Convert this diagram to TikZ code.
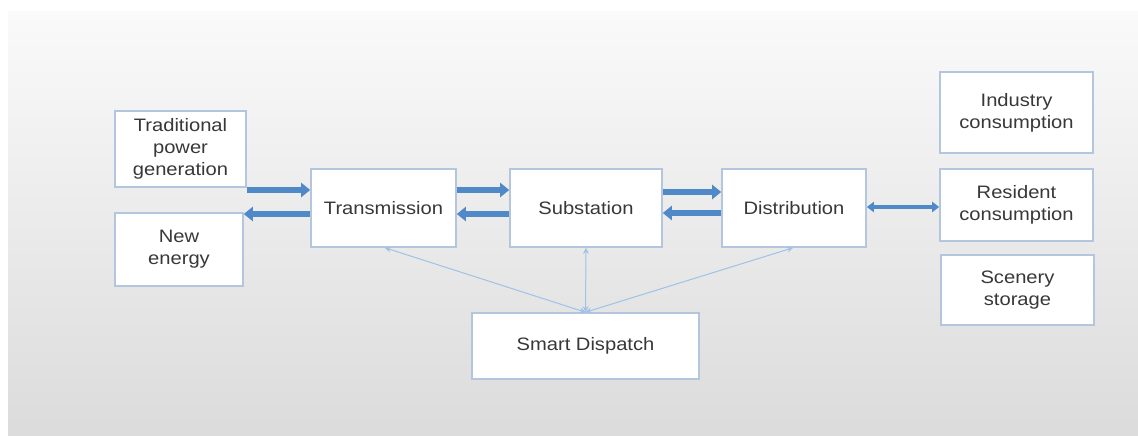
\documentclass[tikz,border=0pt]{standalone}
\usepackage{fontspec}
\setmainfont[FakeStretch=1.12]{Liberation Sans}
\usetikzlibrary{arrows.meta}
\definecolor{boxline}{HTML}{B3C6DD}
\definecolor{flowblue}{HTML}{4F89C8}
\definecolor{linkblue}{HTML}{9FC2E6}
\definecolor{txtgray}{HTML}{383838}
\begin{document}
\begin{tikzpicture}[x=1pt,y=-1pt,
  box/.style={draw=boxline, line width=1.6pt, fill=white, text=txtgray, align=center,
    font=\fontsize{18}{22}\selectfont, inner sep=0pt},
  flow/.style={draw=flowblue, line width=6pt, -{Triangle[length=9pt,width=14pt]}},
  flowboth/.style={draw=flowblue, line width=4.5pt, {Triangle[length=7pt,width=10pt]}-{Triangle[length=7pt,width=10pt]}},
  link/.style={draw=linkblue, line width=1pt, {Stealth[length=6pt,width=6pt]}-{Stealth[length=6pt,width=6pt]}}]
\useasboundingbox (0,0) rectangle (1138,436);
\fill[white] (0,0) rectangle (1138,436);
\shade[top color=black!2, bottom color=black!14] (8,12) rectangle (1138,436);
% boxes
\node[box, minimum width=131pt, minimum height=76pt] (trad) at (180.5,149) {Traditional\\power\\generation};
\node[box, minimum width=128pt, minimum height=73pt] (newen) at (179,249.5) {New\\energy};
\node[box, minimum width=145pt, minimum height=78pt] (trans) at (383.5,208) {Transmission};
\node[box, minimum width=152pt, minimum height=78pt] (subst) at (586,208) {Substation};
\node[box, minimum width=144pt, minimum height=78pt] (distr) at (794,208) {Distribution};
\node[box, minimum width=153pt, minimum height=81pt] (indus) at (1016.5,112.5) {Industry\\consumption};
\node[box, minimum width=153pt, minimum height=72pt] (resid) at (1016.5,205) {Resident\\consumption};
\node[box, minimum width=153pt, minimum height=70pt] (scen) at (1017.5,290) {Scenery\\storage};
\node[box, minimum width=227pt, minimum height=66pt] (smart) at (585.5,346) {Smart Dispatch};
% power flow
\draw[flow] ([yshift=-41pt]trad.east) -- ([yshift=18pt]trans.west);
\draw[flow] ([yshift=-6pt]trans.west) -- ([yshift=35.5pt]newen.east);
\draw[flow] ([yshift=18pt]trans.east) -- ([yshift=18pt]subst.west);
\draw[flow] ([yshift=-6pt]subst.west) -- ([yshift=-6pt]trans.east);
\draw[flow] ([yshift=16pt]subst.east) -- ([yshift=16pt]distr.west);
\draw[flow] ([yshift=-5pt]distr.west) -- ([yshift=-5pt]subst.east);
\draw[flowboth] ([yshift=1pt]distr.east) -- ([yshift=-2pt]resid.west);
% dispatch links
\draw[link] (smart.north) -- ([xshift=1.5pt]trans.south);
\draw[link] (smart.north) -- (subst.south);
\draw[link] (smart.north) -- ([xshift=-1pt]distr.south);
\end{tikzpicture}
\end{document}
